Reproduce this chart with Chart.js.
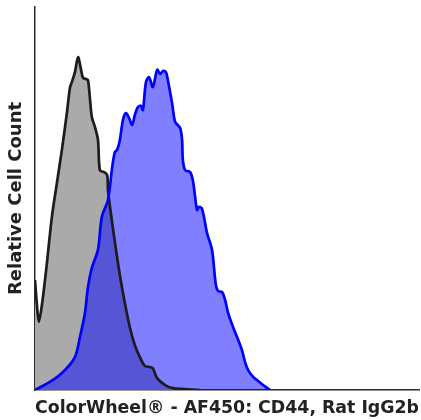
<!DOCTYPE html>
<html>
<head>
<meta charset="utf-8">
<script src="https://cdn.jsdelivr.net/npm/chart.js@4/dist/chart.umd.min.js"></script>
<style>
  body { margin: 0; background: #fff; }
  canvas { display: block; }
</style>
</head>
<body>
<canvas id="chart" width="421" height="420"></canvas>
<script>
// isotype control (gray) - x is fluorescence channel (% of axis), y is relative count
const isoX = [0, 0.5, 1.0, 1.8, 2.9, 4.4, 5.7, 7.0, 8.3, 9.1, 9.6, 10.4, 11.2, 12.0, 12.5, 13.3, 13.8,
    14.3, 14.8, 15.6, 16.4, 16.9, 18.0, 18.8, 19.0, 20.1, 21.1, 22.1, 23.4, 24.7, 26.0, 27.3,
    28.6, 29.9, 30.7, 31.8, 33.9, 35.9, 43.0];
const isoY = [28.7, 22.2, 17.8, 22.2, 31.3, 45.2, 54.0, 62.7, 72.3, 78.9, 80.4, 83.0, 86.9, 83.6, 81.5, 81.2, 80.9,
    76.2, 71.3, 68.7, 65.3, 57.4, 56.9, 56.1, 52.2, 43.6, 36.6, 30.0, 22.7, 16.4, 11.7, 8.6,
    6.3, 6.0, 5.7, 3.1, 1.3, 0.5, 0];

// CD44 stained (blue)
const cd44X = [0, 3.9, 7.3, 10.4, 11.7, 13.0, 13.8, 14.8, 16.4, 17.4, 19.0, 20.1, 20.8, 21.4, 22.1, 22.9,
    23.7, 24.5, 25.3, 26.0, 26.8, 27.6, 28.1, 28.9, 29.7, 30.7, 31.8, 32.6, 33.3, 34.1, 34.6,
    35.7, 36.5, 37.8, 38.3, 38.5, 39.1, 40.4, 41.1, 41.7, 42.2, 42.7, 43.5, 44.8, 46.1, 47.1,
    47.7, 48.7, 49.5, 50.3, 51.6, 52.9, 53.9, 54.7, 55.5, 56.8, 57.8, 59.4, 61.2];
const cd44Y = [0, 2.1, 4.7, 8.6, 13.8, 20.1, 26.9, 31.9, 36.6, 45.2, 49.6, 58.2, 62.1, 62.7, 65.3, 70.5,
    72.3, 71.0, 69.2, 71.8, 73.9, 74.2, 73.1, 80.4, 81.7, 79.1, 83.6, 82.5, 83.3, 83.0, 80.9,
    74.9, 70.0, 68.4, 65.3, 60.1, 57.4, 56.9, 54.8, 50.4, 47.0, 47.8, 47.3, 41.0, 36.6, 27.4,
    25.8, 25.6, 23.5, 20.1, 16.4, 13.1, 10.4, 7.3, 5.2, 3.4, 2.6, 1.3, 0];

const xTitle = 'ColorWheel\u00ae - AF450: CD44, Rat IgG2b';
const yTitle = 'Relative Cell Count';

const toPoints = (xs, ys) => xs.map((x, i) => ({ x, y: ys[i] }));

const axisColor = '#2b2b2b';

new Chart(document.getElementById('chart').getContext('2d'), {
    type: 'line',
    data: {
        datasets: [{
            label: 'CD44',
            data: toPoints(cd44X, cd44Y),
            borderColor: '#0000ff',
            backgroundColor: 'rgba(0, 0, 255, 0.5)',
            borderWidth: 2.7,
            fill: 'origin',
            tension: 0.3,
            pointRadius: 0,
          }, {
            label: 'Isotype',
            data: toPoints(isoX, isoY),
            borderColor: '#1c1c1c',
            backgroundColor: '#aaaaaa',
            borderWidth: 2.7,
            fill: 'origin',
            tension: 0.3,
            pointRadius: 0,
          }]
    },
    options: {
        responsive: false,
        animation: false,
        layout: { padding: { left: 2, right: 2, top: 7, bottom: 0 } },
        plugins: {
            legend: { display: false },
            tooltip: { enabled: false },
            filler: { drawTime: 'beforeDatasetsDraw' },
        },
        scales: {
            x: {
                type: 'linear',
                min: 0,
                max: 100,
                grid: { display: false, drawTicks: false },
                ticks: { display: false },
                border: { display: true, color: axisColor, width: 1.5 },
                title: {
                    display: true, text: xTitle, color: '#222',
                    font: { family: 'DejaVu Sans', size: 17.5, weight: 'bold' },
                    padding: { top: 7.5, bottom: 1.5 },
                },
            },
            y: {
                min: 0,
                max: 100,
                grid: { display: false, drawTicks: false },
                ticks: { display: false },
                border: { display: true, color: axisColor, width: 1.5 },
                title: {
                    display: true, text: yTitle, color: '#222',
                    font: { family: 'DejaVu Sans', size: 18, weight: 'bold' },
                    padding: { top: 3.2, bottom: 8.2 },
                },
            }
        }
    }
});
</script>
</body>
</html>
